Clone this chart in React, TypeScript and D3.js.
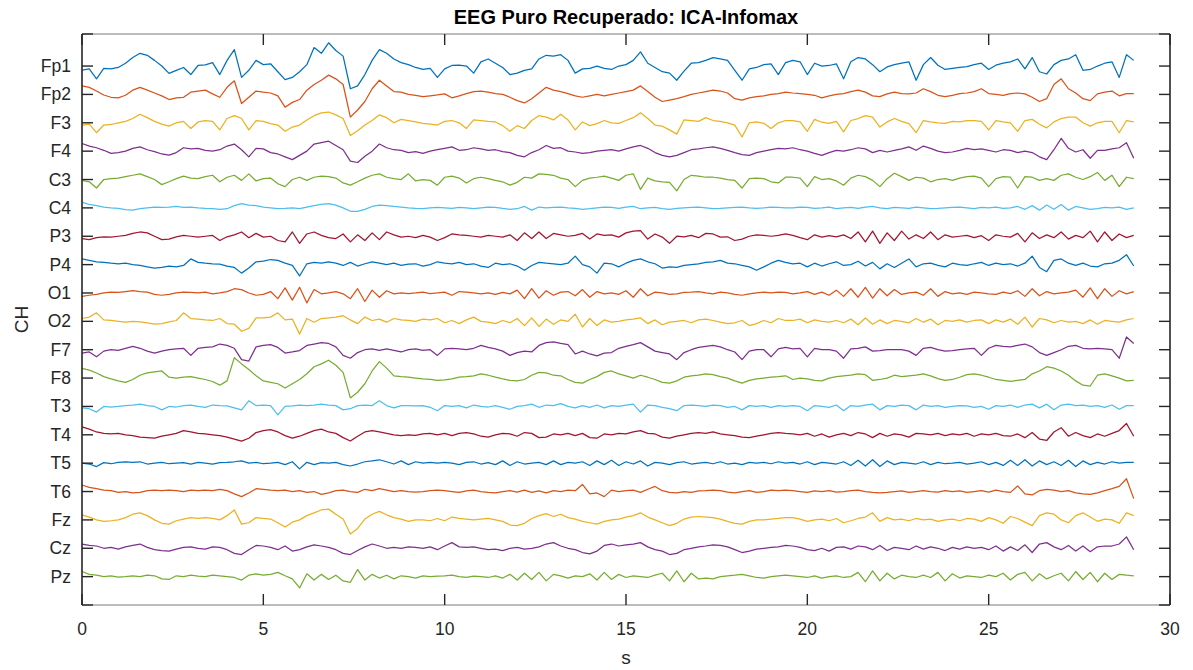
import React from "react";
import * as d3 from "d3";

// Channel names, top to bottom
const channels = [
  "Fp1", "Fp2", "F3", "F4", "C3", "C4", "P3", "P4", "O1", "O2",
  "F7", "F8", "T3", "T4", "T5", "T6", "Fz", "Cz", "Pz",
];

const xTicks = [0, 5, 10, 15, 20, 25, 30];

// Samples every 0.2 s from 0 to 29 s; values are in hundredths of the channel spacing
const sampleInterval = 0.2;
const unit = 0.01;

const fp1 = [
  -14, -10, -45, -8, -10, -5, 10, 30, 45, 38,
  20, 0, -26, -15, -5, -30, 2, 4, 12, -30,
  20, 58, -40, -15, 20, 5, 8, -20, -48, -40,
  -20, 5, 65, 45, 82, 55, 35, -80, -70, -30,
  20, 58, 45, 25, 12, 5, -5, -12, -8, -40,
  -10, 2, 3, 0, -25, 15, 25, 10, -5, -30,
  -25, -15, -10, 25, 38, 35, 40, 20, -25, -10,
  -8, 0, -8, -12, 0, 5, 20, 50, 10, -5,
  -20, -25, -50, -18, 10, 12, 20, 30, 25, 20,
  -15, -50, -10, -5, 5, 8, -30, 12, 20, 15,
  -30, 10, 0, 2, 8, -45, 15, 30, 25, 5,
  -20, -3, 5, 10, 15, -50, 5, 30, 3, -12,
  -8, -5, -2, 5, 10, -12, 3, 10, 15, 25,
  -10, 30, -20, -28, 5, 20, 25, 40, -15, -12,
  0, 10, 15, -40, 40, 20,
];
const fp2 = [
  30, 25, 12, -2, -10, -12, -3, 15, 25, 15,
  5, -5, -18, -12, -10, 8, 12, 15, 2, -10,
  25, 48, -32, -10, 12, 8, 5, -5, -45, -28,
  -18, 15, 35, 50, 68, 55, 35, -80, -55, -25,
  20, 50, 30, 10, 8, 0, -3, -8, -5, -2,
  2, -12, -5, 3, 10, 12, 8, 3, 0, -10,
  -22, -30, -15, 5, 25, 15, 10, 3, -5, -10,
  -5, 0, -5, 0, 5, 10, 15, 30, 10, -10,
  -25, -20, -15, -8, 0, 5, 10, 15, 12, 5,
  -15, -20, -12, -8, -5, 0, 3, 8, 5, 3,
  0, -3, -12, -5, 0, 3, 10, 15, 8, -5,
  -8, 2, 8, 3, 2, 5, 20, 10, -3, -8,
  -3, 3, 5, 10, 20, 3, 0, -3, 3, 5,
  2, -10, -25, -15, 35, 55, 20, 5, -15, -22,
  2, 8, 12, -5, 3, 3,
];
const f3 = [
  -8, -5, -35, -8, -6, 0, 5, 15, 30, 18,
  5, -5, -12, 0, 5, -20, 3, 8, 5, -25,
  15, 25, 15, -25, 8, 5, -3, -8, -30, -15,
  -8, 10, 25, 35, 38, 28, 15, -45, -28, -8,
  8, 28, 18, 0, 12, 8, 3, -2, -5, -8,
  5, 8, 0, -20, 10, 8, 5, 3, -10, -30,
  -10, -20, 8, 25, 20, 10, 30, 10, -25, 3,
  -10, -3, 8, 0, -2, 8, 18, 35, 15, -8,
  -12, -25, -40, 10, 8, 5, 18, 8, 5, 0,
  -8, -50, 0, 3, -2, -20, 0, 8, 8, 3,
  -30, 12, 2, -2, 5, -32, 8, 15, 25, 20,
  -15, 3, 15, 5, -3, -35, 8, 3, 0, -2,
  5, 3, 8, 8, 5, -25, 8, 3, 0, -30,
  8, 12, -5, -18, 3, 15, 20, 20, 0, -12,
  0, 5, 5, -35, 8, 3,
];
const f4 = [
  27, 18, 12, 3, -8, -5, 0, 10, 15, 5,
  -2, -10, -14, -5, 12, 8, 10, 3, 0, 5,
  18, 25, 5, -20, 10, 8, -5, -10, -20, -30,
  -15, 0, 25, 30, 35, 20, 5, -35, -40, -18,
  0, 25, 12, 5, 3, -5, -2, -8, 0, 5,
  10, 15, 3, 5, 12, 8, 3, 5, -2, -5,
  -15, -20, -5, 5, 20, 10, 12, 0, -3, -8,
  -5, 0, 3, 5, 0, 8, 15, 20, 10, -5,
  -15, -20, -15, -5, 5, 8, 12, 15, 10, 3,
  -5, -12, -15, -5, 0, 5, 10, 8, 12, 5,
  0, -8, -15, -5, 3, 0, 5, 12, 8, -5,
  3, -3, 3, 8, 15, 3, 18, 10, 0, -5,
  -3, 3, 10, 5, 8, 3, -3, 5, 3, -5,
  0, -5, -20, -30, 5, 45, 10, -3, 5, -25,
  3, 3, 8, 12, 30, -25,
];
const c3 = [
  -3, -8, -30, 0, 3, 5, 10, 15, 20, 10,
  0, -18, -8, 3, 12, 5, 3, 10, 15, -8,
  8, 15, -3, 20, -5, 3, 5, -15, -25, 0,
  8, -3, 8, 12, 10, 5, -12, -20, -8, 5,
  15, 20, 8, 3, 0, 20, -5, 0, -3, -20,
  8, 12, 5, -12, 3, 8, 3, -3, -8, -20,
  -10, 8, 5, 20, 18, 15, 5, 0, -25, -3,
  5, 8, 12, 5, -3, 15, 20, -35, 5, -5,
  -8, -10, -40, 0, 15, 12, 8, 8, 5, 0,
  -3, -30, 3, 5, 3, -8, -12, 8, 8, 5,
  -25, 10, 0, 3, -5, -20, 5, 15, 10, -3,
  -25, 3, 22, 10, -3, 8, 5, -8, 0, 3,
  -3, 5, 10, 12, 5, -25, 3, 10, 8, -30,
  10, 8, -3, 3, -3, 15, 20, 8, 0, 10,
  25, -3, 15, -25, 8, 3,
];
const c4 = [
  20, 12, 8, 3, 0, -2, -6, -8, -3, 0,
  3, 2, 3, 5, 2, 3, 0, -2, -3, -5,
  -3, 8, 15, 10, 8, 3, 0, -3, -2, 0,
  -3, 3, 8, 12, 15, 10, 0, -12, -12, -5,
  5, 10, 8, 5, 3, 0, -2, -3, 0, 2,
  0, -2, 2, 0, -3, 0, 3, 2, -2, -5,
  -3, 5, -8, 3, 0, 2, 3, 0, -2, -5,
  -3, 0, 3, 2, -2, 3, 5, -3, 0, 2,
  -3, -5, -2, 0, 2, 3, 0, -3, -2, 0,
  2, 3, 0, -2, 0, 3, 2, 0, 0, 3,
  2, -2, 0, 3, -3, 0, 2, -2, 3, 5,
  0, -3, 2, 0, -2, 3, 0, -3, -2, 0,
  2, 3, 0, -3, 2, 0, 3, -2, 0, 5,
  -5, 8, -8, 10, -5, 12, -8, 5, 0, -5,
  -3, 2, 0, 3, -5, 0,
];
const p3 = [
  -8, -12, -5, -2, -3, 0, 3, 10, 15, 12,
  0, -12, -10, -2, 3, 0, -3, 0, 3, -15,
  -2, 5, 15, -5, 10, -3, 0, -15, -20, 15,
  -25, 8, 15, 3, -5, -8, 8, -20, 5, -15,
  12, -12, 15, 5, -3, 0, -5, 3, -3, -15,
  -5, 8, 5, 3, 0, -3, 3, 0, -3, 5,
  -15, 12, -8, 15, -8, 10, 5, 0, 3, 10,
  -10, 8, 3, 5, -3, 12, 18, 20, -10, 8,
  -3, -25, 0, -2, 3, -5, 10, 8, -3, -2,
  -15, -10, 0, 5, 3, 0, 3, 8, 3, -5,
  -12, 5, -3, 2, -2, 5, -8, 15, -20, 18,
  -25, 12, -15, 18, -10, 5, -8, 15, -12, 5,
  -3, 0, 3, -5, 2, -15, 5, 0, -3, 10,
  -20, 12, -8, 5, -5, 15, -10, 3, -5, 18,
  -20, 15, -15, 8, -5, 3,
];
const p4 = [
  20, 15, 10, 8, 5, 3, 5, 0, -3, -8,
  -12, -10, -5, -8, -3, 20, 8, 5, 3, 2,
  -5, -10, -30, -12, 10, 12, 18, 15, 5, -3,
  -40, 3, 8, 5, 10, 5, -3, 8, -5, 3,
  10, 5, 0, 5, -3, 2, 3, -5, 0, 10,
  5, 3, 8, 0, 3, -5, -10, 5, 0, 3,
  -5, -20, -3, 8, 5, 3, 0, 5, 30, 0,
  -8, -30, 5, 3, -8, 5, 15, 20, 10, 3,
  -12, -8, -10, -3, 0, 3, 8, 10, 15, 5,
  3, -3, -8, -20, -8, 5, 15, 8, 3, 5,
  -8, 5, -5, 3, 10, -3, 0, 12, -5, 8,
  -15, 3, -10, 5, 20, -8, 3, 5, -3, -8,
  5, 0, -3, 3, 8, -3, 5, 0, 3, -5,
  5, 30, -10, -25, 15, 20, 5, -3, 5, -5,
  -8, 3, 5, 15, 35, -5,
];
const o1 = [
  -12, -8, -5, 0, 3, 2, 5, 8, 5, 3,
  -5, -8, -5, 0, 3, 2, 0, 3, -3, 0,
  5, 15, 12, 0, -8, -5, 5, -20, 18, -25,
  20, -35, 12, -3, 0, 5, -3, -20, 15, -30,
  10, -15, 8, -3, 0, -2, 0, 3, -2, 0,
  3, -8, 5, 3, 0, -3, 0, -5, 2, -3,
  10, -20, 15, -18, 8, -8, 3, 5, -10, 12,
  -15, 5, -3, 0, -5, 8, -15, 15, -10, 3,
  0, -5, -3, 2, 3, 5, 0, -3, 3, 0,
  -5, -8, -3, 0, 3, 0, 3, 2, -3, 0,
  5, -5, 3, -8, 10, -12, 15, -15, 20, -18,
  15, -10, 12, -5, 0, 3, -8, 15, -12, 5,
  -3, 0, -5, 3, 0, -3, -5, 3, -2, 8,
  -12, 15, -10, 5, -3, 0, 3, 10, -15, 18,
  -20, 15, -12, 8, -3, 5,
];
const o2 = [
  10, 15, 30, 5, 3, 0, -3, 0, -2, -5,
  -10, -8, -2, 3, 30, 10, 8, 5, 3, 10,
  -8, -10, -35, -25, 12, 12, 15, 30, 5, 8,
  -45, 10, -3, 10, 12, 15, 20, 5, -8, 15,
  3, 8, -3, 10, 5, 3, 0, 8, 5, 10,
  -5, 3, -8, 5, 15, 0, -3, -8, 3, -5,
  10, -15, 12, -18, 8, -10, 5, 0, 25, -20,
  10, -15, 5, -3, 0, 5, 8, 12, -8, 5,
  -12, -3, 0, 3, -5, 5, 8, 3, -3, -8,
  -5, 3, -15, -8, 3, -5, 10, 3, 3, 8,
  -5, 5, 0, -3, 3, -5, 8, -12, 12, -10,
  5, -8, 3, 0, -5, 10, -3, 8, -12, 3,
  0, 5, -3, 3, 5, -8, 5, -3, 8, -10,
  15, -20, 10, 5, -5, 3, -3, 0, -8, 5,
  -10, 3, 0, -3, 5, 10,
];
const f7 = [
  -12, -8, -25, -5, 0, -2, 5, 12, 5, -5,
  -12, -5, 0, 3, 5, -20, 5, 8, 10, 20,
  15, 5, -35, -40, 10, 15, 18, 8, -12, -8,
  -3, 15, 20, 25, 22, 10, -20, -30, -10, 0,
  3, -2, 3, -2, -8, 0, 3, -2, 0, -20,
  3, 5, 3, 0, 5, 15, 8, 3, -5, -20,
  -10, -5, -8, 15, 25, 28, 22, 18, -15, -5,
  -15, -22, -12, -10, 5, 12, 18, 25, 10, -5,
  -10, -15, -35, -10, 0, 8, 12, 15, 10, 0,
  -8, -35, -5, 0, 0, -25, 3, 8, 3, 5,
  -25, 5, 0, 0, -5, -30, 3, 5, 10, -5,
  -3, 0, 0, 0, -5, -20, 5, 8, 0, -5,
  -3, 0, 3, 5, -20, 5, 15, 12, 10, 15,
  20, 10, -10, -20, -10, 0, 12, 15, 5, 3,
  5, 3, 0, -30, 45, 22,
];
const f8 = [
  34, 28, 18, 5, -3, -10, -15, -5, 10, 18,
  22, 25, 3, 0, 3, 5, 0, -5, -12, -25,
  -10, 72, 50, 30, 8, -10, -15, -20, -35, -20,
  -5, 15, 40, 50, 63, 45, 20, -70, -50, -20,
  25, 58, 35, 8, 5, 3, 0, -3, -5, -8,
  -6, -3, 3, 5, 8, 15, 10, 3, -3, -8,
  -10, -5, 10, 20, 18, 10, 8, -5, -15, -18,
  -5, 5, 20, 25, 15, 8, 0, 10, 3, -5,
  -15, -18, -10, 3, 8, 10, 15, 12, 5, 0,
  -10, -18, -8, -3, 0, 3, 5, 8, -5, 0,
  -3, -8, -10, 0, 5, 8, 10, 15, 12, -8,
  -5, 0, 10, 5, 8, 10, 15, 8, -2, -8,
  -5, 3, 12, 15, 10, 3, -5, -8, -12, -8,
  -5, 15, 25, 40, 35, 25, 10, -10, -25, -28,
  10, 15, 8, 0, -10, -8,
];
const t3 = [
  -5, -8, -20, 0, -2, 0, 3, 5, 8, 3,
  0, -12, 0, -2, 3, 5, 0, -3, 5, 3,
  2, -5, -12, 20, 3, 5, 3, -30, 0, 2,
  5, 3, 5, 8, 5, 3, -12, -8, 3, 5,
  3, 20, 3, -5, 3, 3, 2, 3, -3, -15,
  3, 0, 3, -5, 5, 0, -2, 3, -3, -10,
  0, 3, 8, -3, 5, 3, 10, 0, -5, 3,
  -3, 5, -5, 3, 0, 5, 8, -20, 5, 3,
  -3, -8, -15, 3, 5, 3, 0, 5, 3, -3,
  0, -12, 3, 0, 3, -3, 3, 0, 3, 0,
  -15, 3, 0, -3, 5, -15, 3, 0, 5, 8,
  -12, 3, 0, 5, 3, -12, 5, 0, 3, -3,
  0, 3, 2, -3, 0, -10, 3, 0, 5, -3,
  5, 8, -5, 8, -12, 5, 8, 3, 5, 0,
  3, -3, 5, -10, 3, 3,
];
const t4 = [
  28, 20, 10, 5, 3, 5, 0, -3, -8, -10,
  -12, -5, 0, 5, 15, 10, 5, 3, 0, -3,
  -8, -15, -22, -12, 8, 15, 18, 10, -3, -12,
  -5, 5, 15, 20, 10, 5, -10, -22, -5, 10,
  15, 10, 5, 0, -3, 0, -2, 3, 5, 0,
  5, -3, 5, 8, 3, -5, -8, 0, 5, 3,
  -5, 8, 5, -10, -8, 3, 0, 5, -3, 5,
  -10, -12, 3, 0, 5, 3, 10, 15, 5, 3,
  -8, -12, -5, 0, 5, 8, 5, 10, 3, 0,
  -3, -8, -10, -5, 0, 5, 8, 5, 3, 0,
  5, -5, 3, -8, 0, 5, -3, 8, 3, -10,
  5, -5, 3, 0, -8, 5, 3, 0, 5, -3,
  3, 0, 5, -5, 3, 0, 5, -3, -5, 3,
  -10, 8, -15, -20, 10, 25, -5, 8, -3, -10,
  3, -5, 5, 15, 40, -5,
];
const t5 = [
  0, -3, -12, 2, -2, 3, 5, 3, 5, -3,
  0, 3, -2, 0, 2, -3, 3, 0, -3, 2,
  3, 5, 8, 0, 3, -2, 0, 3, -5, 5,
  -20, 3, -5, 2, 0, 3, -5, -10, -3, 5,
  8, 12, 5, -3, 8, -5, 5, 0, 3, 0,
  3, 0, -5, 3, 5, -3, 2, -5, 8, -8,
  5, -3, 0, 3, -5, 8, -5, 3, 0, 5,
  -8, 8, -5, 10, -8, 5, -3, 8, -10, 3,
  0, -5, 2, 5, -3, 0, 3, -2, 5, -3,
  0, -5, 3, 0, 3, -2, 5, 0, 3, -3,
  5, -5, 3, 0, -3, 5, -8, 10, -10, 12,
  -12, 8, -5, 3, 0, -3, 5, -5, 3, -2,
  0, 3, -3, 0, 5, -5, 3, -8, 10, -8,
  12, -10, 8, -5, 5, -8, 10, -12, 8, -5,
  3, -3, 5, 0, 3, 3,
];
const t6 = [
  23, 15, 10, 5, 3, -3, 0, -5, -3, 3,
  5, 3, 5, 3, 0, 5, 3, 5, 3, 8,
  3, -8, -18, -5, 10, 8, 5, 3, 5, 0,
  3, -3, 0, -10, -5, 3, 5, 0, -3, 8,
  3, 10, 5, 0, 3, 0, -2, 0, 3, 5,
  3, 0, -3, 2, 5, 0, -3, -5, 0, 3,
  -2, 5, -3, 2, -5, 3, 0, 5, 3, 25,
  -8, -5, -18, 5, 0, 3, 5, -3, 8, 18,
  3, -3, -5, 0, -3, 2, 3, 5, 3, -2,
  -5, 0, 3, -3, 0, 5, 3, 5, 3, 0,
  -3, 2, 0, 3, -2, 0, 3, 5, 0, -3,
  -5, -3, 0, 2, -3, 0, 3, 0, -2, 3,
  0, 2, -3, 0, 3, -2, 5, 0, -3, 20,
  -8, -12, 3, 8, 5, 0, 3, -5, -8, -10,
  -5, 3, 10, 18, 45, -25,
];
const fz = [
  18, 10, 0, -5, -3, 0, 8, 20, 25, 15,
  0, -12, -15, -3, 3, 8, 5, 8, 5, 0,
  15, 35, -15, -10, 8, 5, 3, -10, -25, -8,
  0, 15, 25, 35, 38, 20, 3, -50, -30, 3,
  20, 30, 18, 8, 3, -5, 0, 0, -3, 5,
  -3, 10, 5, 3, 0, 3, 5, 0, -5, -18,
  -20, -12, 5, 15, 22, 12, 20, 8, 3, -5,
  -10, -15, -5, 0, 3, 10, 15, 25, 10, 0,
  -10, -20, -12, 3, 10, 12, 10, 8, 3, -5,
  -12, -15, -5, 0, 0, 3, 5, 8, 8, 3,
  -5, 0, 3, -3, 5, -10, -3, 5, 10, 25,
  -5, 8, 0, 3, -3, 5, 0, 3, -5, 0,
  3, -3, 5, 3, -5, 8, 0, -12, 12, 5,
  -8, -20, 15, 25, 20, 0, -10, 15, 25, 10,
  -5, 3, 0, -12, 25, 15,
];
const cz = [
  15, 10, 8, 0, 3, -3, 5, 10, 15, 3,
  -5, -8, -10, -3, 3, 5, 0, -3, 5, 3,
  -5, -18, -22, -5, 10, 8, 3, -5, 8, -10,
  -5, 5, 12, 8, 3, -5, -18, -22, -8, 5,
  15, 8, 0, 3, 0, 5, 3, 0, 5, -5,
  8, 20, 5, 3, 5, 0, -5, -3, -8, 0,
  3, -3, 0, 5, 15, 20, 8, 0, -5, -15,
  -20, -10, 10, 15, 8, 12, 15, 20, 5, -5,
  -10, -22, -18, -5, 0, 5, 8, 12, 10, 5,
  -5, -15, -10, -3, 0, 3, 5, 10, 8, 3,
  -5, -8, 0, -10, 3, 5, -3, 8, 5, -5,
  10, -8, 3, 0, -5, 8, -3, 5, 0, -8,
  3, -3, 5, 0, 3, -5, 8, -10, 5, -8,
  12, -15, 15, 20, 5, -5, 10, -10, 8, -12,
  5, 8, 8, 15, 40, -5,
];
const pz = [
  18, 8, 5, 0, 3, -2, 0, 3, 0, 5,
  3, -8, -10, 3, 0, 5, 2, 0, 5, 3,
  0, -3, -12, 5, 10, 5, 8, 15, 3, -8,
  -40, 10, -12, 8, -10, 5, -15, -20, 25, -12,
  8, -5, 5, -8, 3, 0, -5, 3, 0, 2,
  3, 5, 0, -3, 2, 0, -3, 3, -5, 8,
  -12, 12, -10, 15, -15, 8, 3, -5, 3, 0,
  10, -12, 15, -10, 8, -3, 3, 0, -3, 5,
  12, -15, 20, -18, 12, -8, -5, -8, 0, 3,
  5, 8, 3, -3, -5, 0, 3, 5, 3, 0,
  -3, 3, -5, 0, 3, -3, 0, 15, -18, 20,
  -15, 12, -8, 5, 0, -3, 5, -3, 15, -15,
  10, -5, 3, 0, -3, 5, 0, 12, -12, 8,
  15, -15, 10, -8, 3, 12, -15, 18, -10, 15,
  -18, 12, -10, 8, 5, 3,
];

const traces = [fp1, fp2, f3, f4, c3, c4, p3, p4, o1, o2, f7, f8, t3, t4, t5, t6, fz, cz, pz];

// MATLAB default line colour order
const palette = ["#0072BD", "#D95319", "#EDB120", "#7E2F8E", "#77AC30", "#4DBEEE", "#A2142F"];

const W = 1193;
const H = 670;
const FONT = "'Liberation Sans', Arial, Helvetica, sans-serif";
const INK = "#262626";

export default function App() {
  const left = 82;
  const right = 1170;
  const top = 34;
  const bottom = 605;
  const yMax = 20.13;
  const n = channels.length;

  const x = d3.scaleLinear().domain([0, 30]).range([left, right]);
  const y = d3.scaleLinear().domain([0, yMax]).range([bottom, top]);

  const yTickVals = [0, ...channels.map((_, i) => n - i), yMax];
  const tickLen = 11;

  return (
    <svg
      width={W}
      height={H}
      viewBox={`0 0 ${W} ${H}`}
      style={{ position: "absolute", left: 0, top: 0, background: "#fff" }}
    >
      <rect x={0} y={0} width={W} height={H} fill="#fff" />
      <rect x={left} y={top} width={right - left} height={bottom - top} fill="#fff" />

      {/* traces */}
      <g fill="none" strokeWidth={1.25} strokeLinejoin="round">
        {traces.map((vals, ci) => {
          const offset = n - ci;
          const line = d3
            .line<number>()
            .x((_, i) => x(i * sampleInterval))
            .y((v) => y(offset + v * unit));
          return <path key={channels[ci]} d={line(vals) || ""} stroke={palette[ci % palette.length]} />;
        })}
      </g>

      {/* frame */}
      <line x1={left} x2={right} y1={top} y2={top} stroke="#7a7a7a" strokeWidth={1} />
      <line x1={left} x2={right} y1={bottom} y2={bottom} stroke="#7a7a7a" strokeWidth={1} />
      <line x1={left} x2={left} y1={top} y2={bottom} stroke={INK} strokeWidth={1.6} />
      <line x1={right} x2={right} y1={top} y2={bottom} stroke={INK} strokeWidth={1.6} />

      {/* x ticks */}
      {xTicks.map((t) => (
        <g key={`xt${t}`}>
          <line x1={x(t)} x2={x(t)} y1={bottom} y2={bottom - tickLen} stroke={INK} strokeWidth={1.4} />
          <line x1={x(t)} x2={x(t)} y1={top} y2={top + tickLen} stroke={INK} strokeWidth={1.4} />
          <text
            x={x(t)}
            y={629}
            textAnchor="middle"
            dominantBaseline="central"
            fontFamily={FONT}
            fontSize={17.5}
            fill={INK}
          >
            {t}
          </text>
        </g>
      ))}

      {/* y ticks */}
      {yTickVals.map((v, k) => (
        <g key={`yt${k}`}>
          <line x1={left} x2={left + tickLen} y1={y(v)} y2={y(v)} stroke={INK} strokeWidth={1.4} />
          <line x1={right} x2={right - tickLen} y1={y(v)} y2={y(v)} stroke={INK} strokeWidth={1.4} />
        </g>
      ))}
      {channels.map((name, i) => (
        <text
          key={`yl${name}`}
          x={71}
          y={y(n - i)}
          textAnchor="end"
          dominantBaseline="central"
          fontFamily={FONT}
          fontSize={17.5}
          fill={INK}
        >
          {name}
        </text>
      ))}

      {/* labels */}
      <text
        x={(left + right) / 2}
        y={17}
        textAnchor="middle"
        dominantBaseline="central"
        fontFamily={FONT}
        fontSize={20}
        fontWeight="bold"
        fill="#000"
      >
        EEG Puro Recuperado: ICA-Infomax
      </text>
      <text
        x={(left + right) / 2}
        y={657}
        textAnchor="middle"
        dominantBaseline="central"
        fontFamily={FONT}
        fontSize={19}
        fill={INK}
      >
        s
      </text>
      <text
        transform={`translate(21, ${(top + bottom) / 2}) rotate(-90)`}
        textAnchor="middle"
        dominantBaseline="central"
        fontFamily={FONT}
        fontSize={19}
        fill={INK}
      >
        CH
      </text>
    </svg>
  );
}
